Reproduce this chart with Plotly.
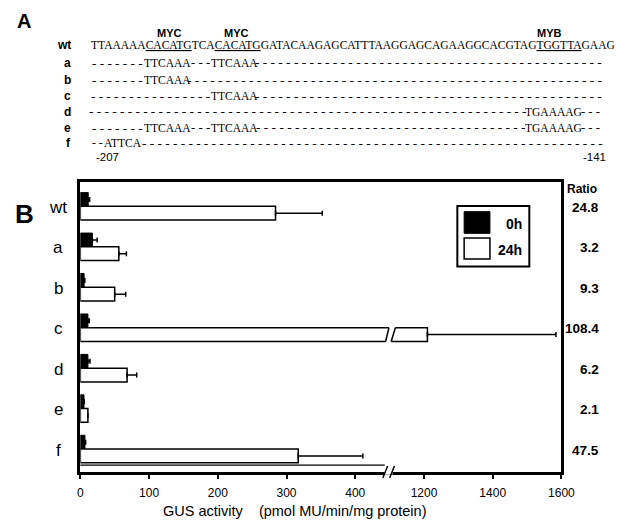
import plotly.graph_objects as go

W, H = 627, 521

# ---------------- data: panel B ----------------
constructs = ["wt", "a", "b", "c", "d", "e", "f"]
gus_0h = [11.5, 17.5, 5.5, 11.0, 11.0, 5.3, 6.7]
gus_0h_err = [2.0, 7.0, 1.0, 2.0, 3.0, 0.5, 1.0]
gus_24h = [284, 56, 50, 1210, 68, 11, 317]
gus_24h_err = [68, 11, 16, 374, 14, 0, 94]
ratio_labels = ["24.8", "3.2", "9.3", "108.4", "6.2", "2.1", "47.5"]
x_tick_values = [0, 100, 200, 300, 400, 1200, 1400, 1600]
x_tick_labels = ["0", "100", "200", "300", "400", "1200", "1400", "1600"]
series_names = ["0h", "24h"]

# ---------------- data: panel A ----------------
seq_row_labels = ["wt", "a", "b", "c", "d", "e", "f"]
wt_sequence = "TTAAAAACACATGTCACACATGGATACAAGAGCATTTAAGGAGCAGAAGGCACGTAGTGGTTAGAAG"
mutant_sequences = [
    "-------TTCAAA---TTCAAA" + "-" * 45,
    "-------TTCAAA" + "-" * 54,
    "-" * 16 + "TTCAAA" + "-" * 45,
    "-" * 57 + "TGAAAAG---",
    "-------TTCAAA---TTCAAA" + "-" * 35 + "TGAAAAG---",
    "--ATTCA" + "-" * 60,
]
site_names = ["MYC", "MYC", "MYB"]
site_spans = [(7, 13), (16, 22), (57, 63)]
seq_start_label, seq_end_label = "-207", "-141"

# ---------------- layout helpers (pixels -> paper) ----------------
SANS = "Liberation Sans, Arial, sans-serif"
SERIF = "Liberation Serif, Times New Roman, serif"

def px(x):
    return x / W

def py(y):
    return 1 - y / H

PLOT_L, PLOT_R = 79.5, 574.0
PLOT_T, PLOT_B = 181.7, 471.7
Y_TOP, Y_BOT = -0.61, 6.56

BRK_LO, BRK_HI = 450, 1100

def disp(v):
    return v if v <= BRK_LO else BRK_LO + (v - BRK_HI) / 2.0

X_MAX = disp(1600)

def xpix(d):
    return PLOT_L + (PLOT_R - PLOT_L) * d / X_MAX

def ypix(c):
    return PLOT_T + (c - Y_TOP) / (Y_BOT - Y_TOP) * (PLOT_B - PLOT_T)

ypos = list(range(len(constructs)))

fig = go.Figure()
fig.add_trace(go.Bar(
    name=series_names[0], orientation="h", y=ypos,
    x=[disp(v) for v in gus_0h],
    marker=dict(color="black", line=dict(color="black", width=1)),
    error_x=dict(type="data", symmetric=False,
                 array=[disp(v + e) - disp(v) for v, e in zip(gus_0h, gus_0h_err)],
                 arrayminus=[0] * len(gus_0h), color="black", thickness=1.5, width=2.5),
))
fig.add_trace(go.Bar(
    name=series_names[1], orientation="h", y=ypos,
    x=[disp(v) for v in gus_24h],
    marker=dict(color="white", line=dict(color="black", width=1.5)),
    error_x=dict(type="data", symmetric=False,
                 array=[disp(v + e) - disp(v) for v, e in zip(gus_24h, gus_24h_err)],
                 arrayminus=[0] * len(gus_24h), color="black", thickness=1.5, width=2.5),
))

shapes = []
ann = []

def text(x, y, s, size, family=SANS, xanchor="center", bold=False, color="black"):
    ann.append(dict(x=px(x), y=py(y), xref="paper", yref="paper", text=("<b>%s</b>" % s) if bold else s,
                    showarrow=False, xanchor=xanchor, yanchor="middle", borderpad=0, borderwidth=0,
                    font=dict(family=family, size=size, color=color)))

# ---------- Panel A ----------
text(22, 21, "A", 20, bold=True)
CW = {"A": 0.722, "C": 0.667, "G": 0.722, "T": 0.611}
FS_LAYOUT = 11.3   # effective em size used for positions
FS = 11.5          # rendered font size
X0 = 90.0
cum = [X0]
for ch in wt_sequence:
    cum.append(cum[-1] + FS_LAYOUT * CW[ch])

row_y = [45, 62.5, 79.5, 96, 112, 128, 143]
text(69.5, row_y[0], seq_row_labels[0], 12, xanchor="right", bold=True)

# wt row: one string, binding sites underlined
parts = []
prev = 0
for a, b in site_spans:
    parts.append(wt_sequence[prev:a])
    parts.append('<span style="text-decoration:underline">%s</span>' % wt_sequence[a:b])
    prev = b
parts.append(wt_sequence[prev:])
text(X0, row_y[0], "".join(parts), FS, family=SERIF, xanchor="left")

for (a, b), nm in zip(site_spans, site_names):
    text((cum[a] + cum[b]) / 2 + 3, 33, nm, 11, bold=True)

for r, row in enumerate(mutant_sequences):
    yy = row_y[r + 1]
    text(69.5, yy, seq_row_labels[r + 1], 12, xanchor="right", bold=True)
    i = 0
    n = len(row)
    last_end = None
    while i < n:
        j = i
        is_dash = row[i] == "-"
        while j < n and (row[j] == "-") == is_dash:
            j += 1
        if is_dash:
            k = j - i
            x_lo = cum[i] if last_end is None else max(cum[i], last_end + 1.0)
            span = cum[j] - x_lo
            s = min(13.5, 0.99 * (cum[j] - cum[i]) / (k * 0.5833))
            if k * 0.5833 * s - 0.25 * s > span - 2:
                s = (span - 2) / (k * 0.5833 - 0.25)
            text((x_lo + cum[j]) / 2, yy, " ".join("-" * k), s, family=SERIF, xanchor="center")
        else:
            text(cum[i], yy, row[i:j], FS, family=SERIF, xanchor="left")
            last_end = cum[i] + FS * 0.985 * sum(CW[c] for c in row[i:j])
        i = j

text(107, 157, seq_start_label, 11.5)
text(607.5, 157, seq_end_label, 11.5)

# ---------- Panel B annotations ----------
text(22, 214, "B", 26, bold=True)
for i, lab in enumerate(constructs):
    text(57, ypix(i) + 1, lab, 17)
text(595, 189, "Ratio", 12, bold=True)
for i, r in enumerate(ratio_labels):
    text(613, ypix(i) + 1, r, 13.5, xanchor="right", bold=True)
text(300, 511, "GUS activity\u00a0\u00a0\u00a0\u00a0(pmol MU/min/mg protein)", 14.5)

# legend box (drawn)
shapes.append(dict(type="rect", xref="paper", yref="paper", x0=px(467), x1=px(541), y0=py(266.5), y1=py(206),
                   line=dict(color="black", width=2), fillcolor="white"))
shapes.append(dict(type="rect", xref="paper", yref="paper", x0=px(474), x1=px(500.5), y0=py(233.3), y1=py(211.7),
                   line=dict(color="black", width=1), fillcolor="black"))
shapes.append(dict(type="rect", xref="paper", yref="paper", x0=px(474), x1=px(500.5), y0=py(259), y1=py(238),
                   line=dict(color="black", width=1.5), fillcolor="white"))
text(533, 223.5, series_names[0], 14, xanchor="right", bold=True)
text(533, 249.5, series_names[1], 14, xanchor="right", bold=True)

# axis break marks
bx = xpix(disp(BRK_LO))
# thin double line just above the axis, up to the break
shapes.append(dict(type="line", xref="paper", yref="paper", x0=px(PLOT_L), x1=px(bx - 5),
                   y0=py(PLOT_B - 6.5), y1=py(PLOT_B - 6.5), line=dict(color="black", width=1.3)))
shapes.append(dict(type="rect", xref="paper", yref="paper", x0=px(bx - 5), x1=px(bx + 3),
                   y0=py(PLOT_B + 3), y1=py(PLOT_B - 3), line=dict(width=0), fillcolor="white"))
for dx in (0, 7):
    shapes.append(dict(type="line", xref="paper", yref="paper", x0=px(bx - 7 + dx), y0=py(478),
                       x1=px(bx - 2 + dx), y1=py(466), line=dict(color="black", width=1.5)))
# break in construct c bar
ci = constructs.index("c")
bt, bb = ypix(ci + 0.0), ypix(ci + 0.34)
path = "M %f,%f L %f,%f L %f,%f L %f,%f Z" % (
    px(bx - 4.5), py(bb + 2), px(bx - 0.3), py(bt - 2), px(bx + 6.3), py(bt - 2), px(bx + 1.2), py(bb + 2))
shapes.append(dict(type="path", xref="paper", yref="paper", path=path, line=dict(width=0), fillcolor="white"))
for (xb, xt) in ((bx - 4.1, bx - 0.7), (bx + 1.6, bx + 5.9)):
    shapes.append(dict(type="line", xref="paper", yref="paper", x0=px(xb), y0=py(bb), x1=px(xt), y1=py(bt),
                       line=dict(color="black", width=1.5)))

fig.update_layout(
    width=W, height=H, margin=dict(l=0, r=0, t=0, b=0),
    paper_bgcolor="white", plot_bgcolor="white",
    barmode="group", bargap=0.32, bargroupgap=0,
    showlegend=False,
    shapes=shapes, annotations=ann,
    xaxis=dict(domain=[px(PLOT_L), px(PLOT_R)], range=[0, X_MAX],
               tickvals=[disp(v) for v in x_tick_values], ticktext=x_tick_labels,
               ticks="outside", ticklen=5, tickwidth=2, tickcolor="black",
               tickfont=dict(family=SANS, size=12, color="black"), ticklabelstandoff=3,
               showline=True, linewidth=2.5, linecolor="black", mirror=True,
               showgrid=False, zeroline=False, fixedrange=True),
    yaxis=dict(domain=[py(PLOT_B), py(PLOT_T)], range=[Y_BOT, Y_TOP],
               showticklabels=False, ticks="", showline=True, linewidth=3, linecolor="black",
               mirror=True, showgrid=False, zeroline=False, fixedrange=True),
)

fig.write_html("out.html", config={"displayModeBar": False},
               post_script="document.body.style.margin='0';document.body.style.overflow='hidden';")
